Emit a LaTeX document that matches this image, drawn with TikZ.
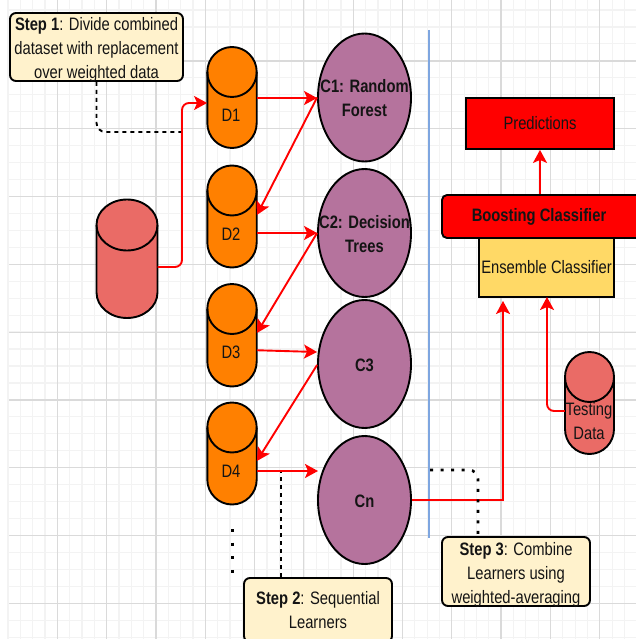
\documentclass[tikz,border=0pt]{standalone}
\usepackage{fontspec}
\setmainfont[FakeStretch=0.82]{Liberation Sans}
\usetikzlibrary{arrows.meta,shapes.geometric}
\definecolor{cyorange}{HTML}{FF8000}
\definecolor{cypink}{HTML}{EA6B66}
\definecolor{elpurple}{HTML}{B5739D}
\definecolor{cream}{HTML}{FFF2CC}
\definecolor{ensemble}{HTML}{FFD966}
\definecolor{sepblue}{HTML}{7EA6E0}
\definecolor{gmajor}{HTML}{DADADA}
\definecolor{gminor}{HTML}{F3F3F3}
\tikzset{
  txt/.style={font=\fontsize{18}{24}\selectfont,text=black!92,align=center},
  boldtxt/.style={txt,font=\fontsize{18}{24}\selectfont\bfseries,yshift=-1pt},
  note/.style={draw=black,line width=1.9pt,fill=cream,rounded corners=6pt,inner sep=0pt},
  clsf/.style={ellipse,draw=black,line width=1.9pt,fill=elpurple,minimum width=93pt,minimum height=128pt,inner sep=0pt},
  boxnode/.style={draw=black,line width=1.9pt,inner sep=0pt,txt},
  cylbox/.style={rectangle,inner sep=0pt,draw=none},
  flow/.style={draw=red,line width=1.9pt,-{Stealth[length=13pt,width=14pt,inset=3pt]},rounded corners=7pt},
  link/.style={draw=black,line width=1.9pt,rounded corners=9pt},
  dashlink/.style={link,dash pattern=on 4pt off 4pt},
  dotlink/.style={link,line width=2.6pt,dash pattern=on 3pt off 7.5pt},
}
% name, cx, top, bottom, rx, ry, colour
\newcommand{\cylshape}[7]{%
  \path[draw=black,line width=1.9pt,fill=#7]
    (#2-#5,#3+#6) arc[start angle=180,end angle=0,x radius=#5,y radius=-#6]
    -- (#2+#5,#4-#6) arc[start angle=0,end angle=-180,x radius=#5,y radius=-#6] -- cycle;
  \path[draw=black,line width=1.9pt]
    (#2-#5,#3+#6) arc[start angle=180,end angle=360,x radius=#5,y radius=-#6];
  \node[cylbox,minimum width=2*#5 pt,minimum height=#4 pt-#3 pt] (#1) at (#2,{(#3+#4)/2}) {};
}
\begin{document}
\begin{tikzpicture}[x=1pt,y=-1pt]
\clip (0,0) rectangle (636,639);
\fill[white] (0,0) rectangle (636,639);
% grid
\foreach \k in {0,...,52} {\draw[gminor,line width=1.2pt] ({8+12.33*\k},0) -- ({8+12.33*\k},639);}
\foreach \k in {0,...,38} {\draw[gminor,line width=1.2pt] (9,{10+16.95*\k}) -- (636,{10+16.95*\k});}
\foreach \k in {0,...,11} {\draw[gmajor,line width=1.2pt] ({57.3+49.3*\k},0) -- ({57.3+49.3*\k},639);}
\foreach \k in {0,...,8} {\draw[gmajor,line width=1.2pt] (9,{61+67.8*\k}) -- (636,{61+67.8*\k});}
% separator
\coordinate (septop) at (429,30);
\coordinate (sepbot) at (429,538);
\draw[sepblue,line width=1.4pt] (septop) -- (sepbot);
% cylinders
\cylshape{D1}{232}{47}{148}{24.7}{25}{cyorange}
\cylshape{D2}{232}{165.5}{267.5}{24.7}{25}{cyorange}
\cylshape{D3}{232}{284}{386.5}{24.7}{25}{cyorange}
\cylshape{D4}{232}{402.5}{504.5}{24.7}{25}{cyorange}
\cylshape{data}{127}{199.5}{318}{30.5}{25.5}{cypink}
\cylshape{test}{589.5}{352}{454}{24.5}{25}{cypink}
\node[txt] (D1t) at (231,115) {D1};
\node[txt] (D2t) at (231,234) {D2};
\node[txt] (D3t) at (231,352) {D3};
\node[txt] (D4t) at (231,471) {D4};
\node[txt] (testt) at (589,421) {Testing\\Data};
% classifiers
\node[clsf,label={[boldtxt]center:C1: Random\\Forest}] (C1) at (364.5,97.5) {};
\node[clsf,label={[boldtxt]center:C2: Decision\\Trees}] (C2) at (364.5,233) {};
\node[clsf,label={[boldtxt]center:C3}] (C3) at (364.5,364) {};
\node[clsf,label={[boldtxt]center:Cn}] (Cn) at (364.5,500) {};
% right column
\node[boxnode,fill=red,minimum width=148pt,minimum height=51pt] (pred) at (540,123.5) {Predictions};
\node[boxnode,fill=ensemble,minimum width=135pt,minimum height=59pt] (ens) at (546.5,267.5) {Ensemble Classifier};
\node[boxnode,fill=red,rounded corners=5pt,minimum width=200pt,minimum height=43pt,font=\fontsize{18}{24}\selectfont\bfseries] (boost) at (542,216.5) {\hspace*{-6pt}Boosting Classifier};
% notes
\node[note,minimum width=173pt,minimum height=68pt,label={[txt,yshift=-3pt]center:\textbf{Step 1}: Divide combined\\dataset with replacement\\over weighted data}] (S1) at (96.5,47) {};
\node[note,minimum width=148pt,minimum height=69pt,label={[txt,yshift=-3.5pt]center:\textbf{Step 3}: Combine\\Learners using\\weighted-averaging}] (S3) at (516,571.5) {};
\node[note,minimum width=148pt,minimum height=64pt,label={[txt,yshift=-0.5pt]center:\textbf{Step 2}: Sequential\\Learners}] (S2) at (318,610) {};
% red connectors
\draw[flow] ([yshift=-8.25pt]data.east) -- (182,267) -- (182,103) -- ([yshift=-5.5pt]D1.west);
\draw[flow] ([yshift=-0.5pt]D1.east) -- ([yshift=-0.5pt]C1.west);
\draw[flow] (C1.west) -- ([yshift=1.5pt]D2.east);
\draw[flow] ([yshift=-16.5pt]D2.east) -- (C2.west);
\draw[flow] (C2.west) -- ([yshift=2.25pt]D3.east);
\draw[flow] ([yshift=-15pt]D3.east) -- ([yshift=12pt]C3.west);
\draw[flow] ([yshift=-1pt]C3.west) -- ([yshift=-7.5pt]D4.east);
\coordinate (cntip) at (318,471);
\draw[flow] ([yshift=-17.5pt]D4.east) -- (cntip);
\draw[flow,rounded corners=0pt] (Cn.east) -- (503,500) -- (503,301);
\draw[flow] ([yshift=-8pt]test.west) -- (547,411) -- (547,297);
\draw[flow] (boost.north -| pred.south) -- (pred.south);
% black connectors
\coordinate (s1end) at (181,132);
\draw[dashlink] (S1.south) -- (96.5,132) -- (s1end);
\coordinate (s2start) at (281,472);
\draw[dashlink] (S2.north -| s2start) -- (s2start);
\coordinate (s3start) at (430,470);
\coordinate (s3foot) at (478,537);
\draw[dotlink,line cap=butt] (s3start) -- (478,470) -- (s3foot);
\coordinate (dotsa) at (232,529);
\coordinate (dotsb) at (232,573);
\draw[draw=black,line width=3pt,dash pattern=on 3pt off 10.6pt] (dotsa) -- (dotsb);
\end{tikzpicture}
\end{document}
